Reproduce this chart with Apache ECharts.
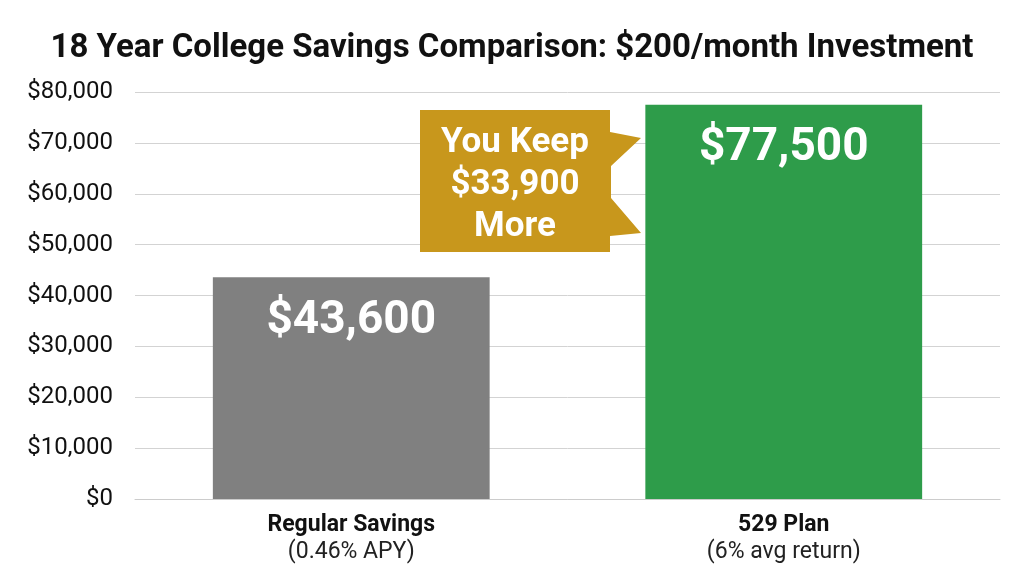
<!DOCTYPE html>
<html><head><meta charset="utf-8">
<script src="https://cdn.jsdelivr.net/npm/echarts@6/dist/echarts.min.js"></script>
<style>html,body{margin:0;padding:0;background:#fff}#c{width:1024px;height:572px}</style>
</head><body><div id="c"></div>
<script>
const categories = ['Regular Savings', '529 Plan'];
const subLabels = ['(0.46% APY)', '(6% avg return)'];
const values = [43600, 77500];
const barColors = ['#808080', '#2e9c4a'];
const yMin = 0, yMax = 80000, yInterval = 10000;
const titleText = '18 Year College Savings Comparison: $200/month Investment';
const calloutLines = ['You Keep', '$33,900', 'More'];

const chart = echarts.init(document.getElementById('c'));
const F = 'Roboto, "Liberation Sans", sans-serif';
chart.setOption({
  animation: false,
  title: {text: titleText, left: 'center', top: 27,
    textStyle: {fontFamily: F, fontSize: 33, fontWeight: 'bold', color: '#111'}},
  grid: {left: 135, right: 24, top: 92, bottom: 73},
  xAxis: {type: 'category', data: categories,
    axisLine: {show: true, lineStyle: {color: '#cccccc'}}, axisTick: {show: false},
    axisLabel: {margin: 13, fontFamily: F, lineHeight: 27,
      formatter: (v, i) => '{b|' + v + '}\n{n|' + subLabels[i] + '}',
      rich: {b: {fontFamily: F, fontSize: 23, fontWeight: 'bold', color: '#111', lineHeight: 27},
             n: {fontFamily: F, fontSize: 23, color: '#222', lineHeight: 27}}}},
  yAxis: {type: 'value', min: yMin, max: yMax, interval: yInterval,
    axisLine: {show: false}, axisTick: {show: false},
    splitLine: {lineStyle: {color: '#d3d3d3', width: 1}},
    axisLabel: {margin: 22, fontFamily: F, fontSize: 24, color: '#111',
      formatter: v => '$' + v.toLocaleString('en-US')}},
  series: [{type: 'bar', barWidth: '64%',
    data: values.map((v, i) => ({value: v, itemStyle: {color: barColors[i]}})),
    label: {show: true, position: 'insideTop', distance: 21, fontFamily: F,
      fontSize: 46, fontWeight: 'bold', color: '#fff',
      formatter: p => '$' + p.value.toLocaleString('en-US')}}],
  graphic: [{
    type: 'polygon', z: 10,
    shape: {points: [[420,110],[610,110],[610,132],[641,138],[611,166],[611,198],[641,233],[610,236],[610,252],[420,252]]},
    style: {fill: '#c8971c'}
  }, {
    type: 'text', z: 11, x: 515, y: 122,
    style: {text: calloutLines.join('\n'), textAlign: 'center', textVerticalAlign: 'top',
      fontFamily: F, fontSize: 35, fontWeight: 'bold', fill: '#fff', lineHeight: 42}
  }]
});
</script></body></html>
